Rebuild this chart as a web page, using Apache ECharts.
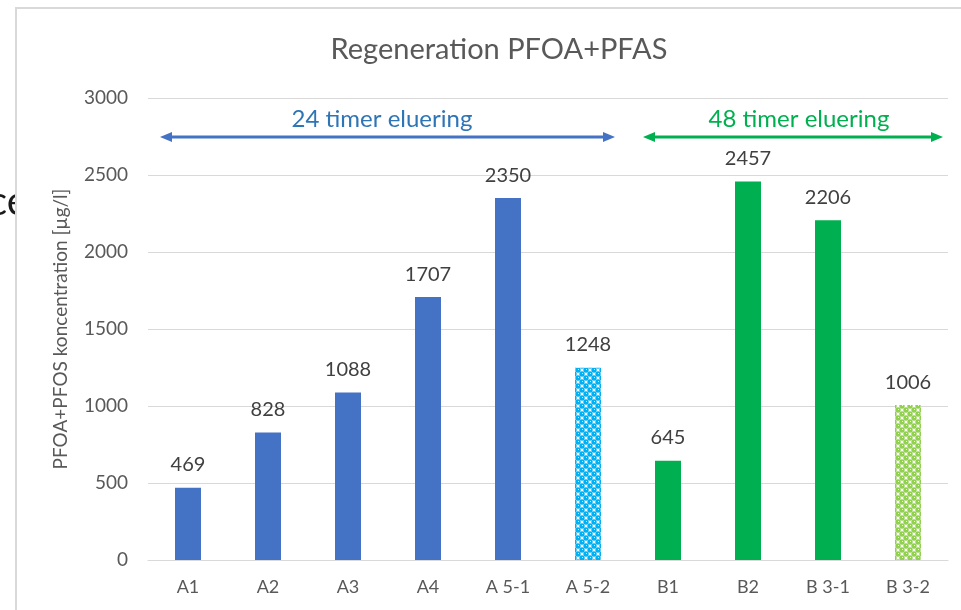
<!DOCTYPE html>
<html><head><meta charset="utf-8">
<script src="https://cdn.jsdelivr.net/npm/echarts@6/dist/echarts.min.js"></script>
<style>html,body{margin:0;padding:0;background:#fff}#c{width:961px;height:610px}</style>
</head><body><div id="c"></div>
<script>
const categories = ['A1','A2','A3','A4','A 5-1','A 5-2','B1','B2','B 3-1','B 3-2'];
const values = [469, 828, 1088, 1707, 2350, 1248, 645, 2457, 2206, 1006];
const yTicks = [0, 500, 1000, 1500, 2000, 2500, 3000];
const groupLabels = ['24 timer eluering', '48 timer eluering'];
const titleText = 'Regeneration PFOA+PFAS';
const yName = 'PFOA+PFOS koncentration [µg/l]';

const FONT = 'Lato';
function makePattern(color){
  const c = document.createElement('canvas'); c.width = 8; c.height = 8;
  const g = c.getContext('2d');
  g.fillStyle = '#fff'; g.fillRect(0,0,8,8);
  g.fillStyle = color;
  const centers = [[2,2],[6,6]];
  for (const [cx,cy] of centers) for (const dx of [-8,0,8]) for (const dy of [-8,0,8]) {
    g.beginPath(); g.arc(cx+dx, cy+dy, 2.7, 0, Math.PI*2); g.fill();
  }
  g.fillStyle = 'rgba(255,255,255,0.9)';
  g.fillRect(2,1,1,1); g.fillRect(6,5,1,1);
  return {image: c, repeat: 'repeat'};
}
const styles = ['#4472c4','#4472c4','#4472c4','#4472c4','#4472c4', makePattern('#00b0f0'),
                '#00b050','#00b050','#00b050', makePattern('#92d050')];

const chart = echarts.init(document.getElementById('c'), null, {renderer:'canvas'});
function arrow(x1, x2, y, color){
  const h = 12, w = 5;
  return [
    {type:'line', shape:{x1:x1+h-2, y1:y, x2:x2-h+2, y2:y}, style:{stroke:color, lineWidth:3}, z:10},
    {type:'polygon', shape:{points:[[x1,y],[x1+h,y-w],[x1+h,y+w]]}, style:{fill:color}, z:10},
    {type:'polygon', shape:{points:[[x2,y],[x2-h,y-w],[x2-h,y+w]]}, style:{fill:color}, z:10}
  ];
}
chart.setOption({
  animation:false,
  backgroundColor:'#fff',
  title:{text:titleText, left:494, top:30, textAlign:'center',
    textStyle:{fontFamily:FONT, fontSize:29, fontWeight:'normal', color:'#595959'}},
  grid:{left:148, right:13, top:98, bottom:50, containLabel:false},
  xAxis:{type:'category', data:categories,
    axisLine:{lineStyle:{color:'#d9d9d9', width:1}}, axisTick:{show:false},
    axisLabel:{color:'#595959', fontFamily:FONT, fontSize:18, margin:18}},
  yAxis:{type:'value', min:yTicks[0], max:yTicks[yTicks.length-1], interval:500,
    axisLine:{show:false}, axisTick:{show:false},
    splitLine:{lineStyle:{color:'#d9d9d9', width:1}},
    axisLabel:{color:'#595959', fontFamily:FONT, fontSize:19, margin:20, formatter:(v)=>String(v)},
    name:yName, nameLocation:'middle', nameGap:78, nameRotate:90,
    nameTextStyle:{color:'#595959', fontFamily:FONT, fontSize:19}},
  series:[{type:'bar', barWidth:26,
    data: values.map((v,i)=>({value:v, itemStyle:{color:styles[i]}})),
    label:{show:true, position:'top', distance:13, color:'#404040', fontFamily:FONT, fontSize:20}}],
  graphic:[
    {type:'text', x:-12, y:222, style:{text:'ce', fontFamily:FONT, fontSize:40, fill:'#1a1a1a', textVerticalAlign:'bottom'}, z:-20, silent:true},
    {type:'rect', shape:{x:16, y:8, width:1000, height:700}, style:{fill:'#fff', stroke:'#d9d9d9', lineWidth:2}, z:-10, silent:true},
    ...arrow(160, 615, 137, '#4472c4'),
    ...arrow(643, 943, 137, '#00b050'),
    {type:'text', x:382, y:119, style:{text:groupLabels[0], fontFamily:FONT, fontSize:24, fill:'#2e75b6', textAlign:'center', textVerticalAlign:'middle'}, z:10},
    {type:'text', x:799, y:119, style:{text:groupLabels[1], fontFamily:FONT, fontSize:24, fill:'#00b050', textAlign:'center', textVerticalAlign:'middle'}, z:10}
  ]
});
</script></body></html>
